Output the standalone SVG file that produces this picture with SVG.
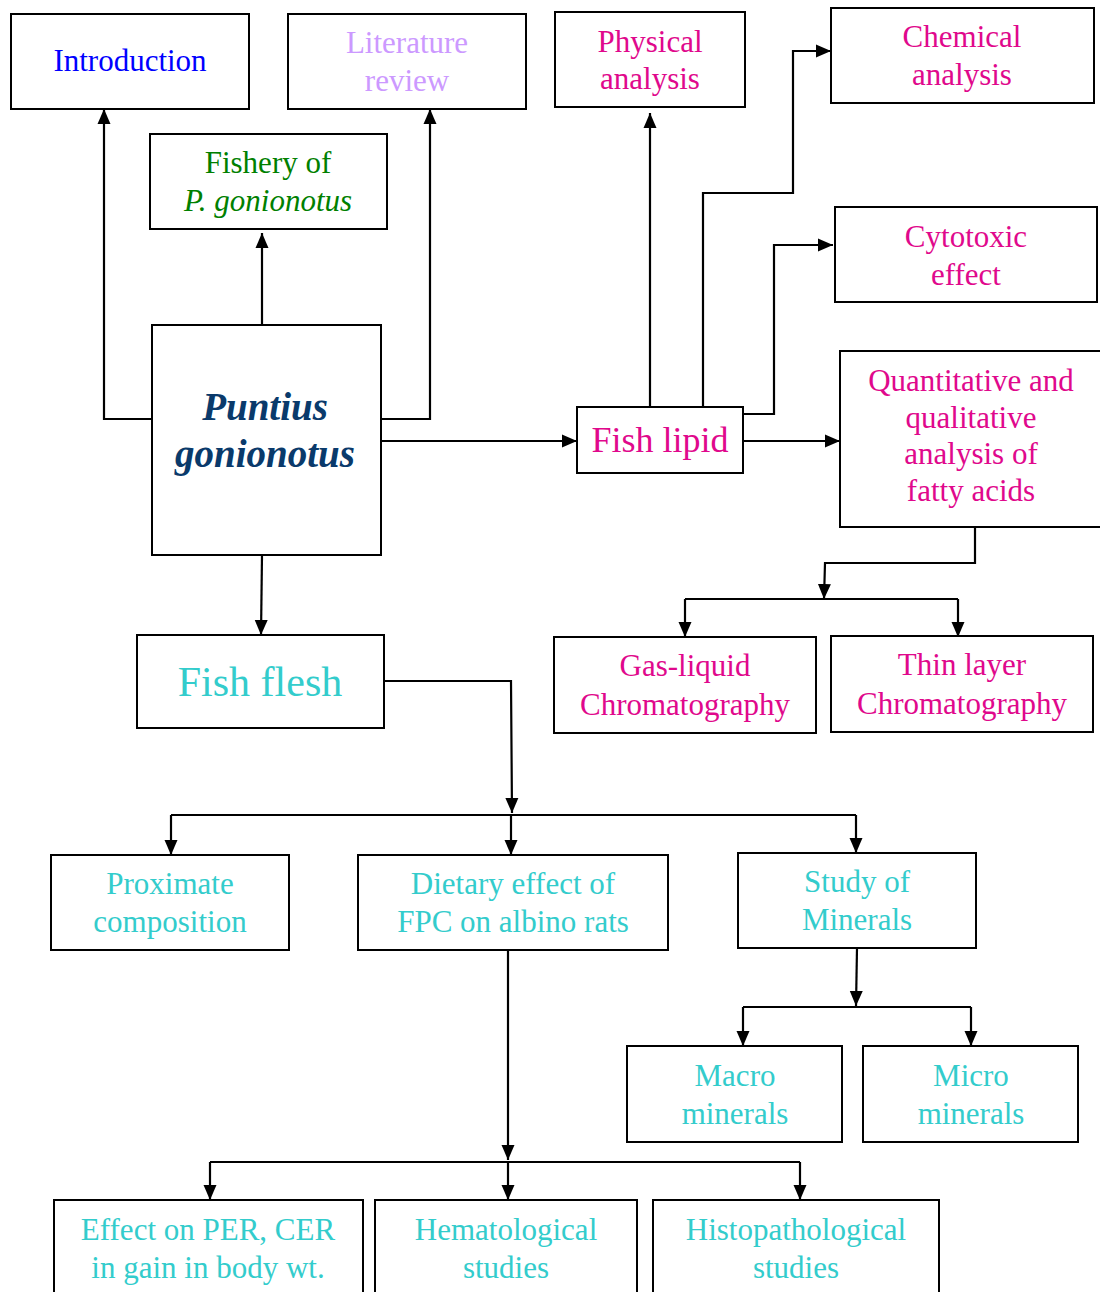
<svg xmlns="http://www.w3.org/2000/svg" width="1100" height="1292" viewBox="0 0 1100 1292">
<style>
.box{fill:#fff;stroke:#000;stroke-width:2}
.t{font-family:"Liberation Serif","Times New Roman",serif;font-size:31px;text-anchor:middle}
.big{font-size:39px;font-weight:bold;font-style:italic;fill:#0a3a6b}
.lip{font-size:36px}
.fl{font-size:42px}
.mag{fill:#e0088c}
.tq{fill:#33cccc}
.c{fill:none;stroke:#000;stroke-width:2.2}
</style>
<defs>
<marker id="ah" markerUnits="userSpaceOnUse" markerWidth="16" markerHeight="14" refX="15" refY="7" orient="auto">
<path d="M0,0.5 L15,7 L0,13.5 z" fill="#000"/>
</marker>
</defs>
<rect width="1100" height="1292" fill="#fff"/>
<g id="connectors">
<path class="c" d="M152,419 H104 V109" marker-end="url(#ah)"/>
<path class="c" d="M381,419 H430 V109" marker-end="url(#ah)"/>
<path class="c" d="M262,325 V233" marker-end="url(#ah)"/>
<path class="c" d="M377,441 H577" marker-end="url(#ah)"/>
<path class="c" d="M262,555 L261,635" marker-end="url(#ah)"/>
<path class="c" d="M650,407 V113" marker-end="url(#ah)"/>
<path class="c" d="M703,407 V193 H793 V51 H831" marker-end="url(#ah)"/>
<path class="c" d="M743,414 H774 V245 H833" marker-end="url(#ah)"/>
<path class="c" d="M741,441 H840" marker-end="url(#ah)"/>
<path class="c" d="M975,527 V563 H825 L824,599" marker-end="url(#ah)"/>
<path class="c" d="M685,599 H958"/>
<path class="c" d="M685,599 V637" marker-end="url(#ah)"/>
<path class="c" d="M958,599 V637" marker-end="url(#ah)"/>
<path class="c" d="M384,681 H511 L512,813" marker-end="url(#ah)"/>
<path class="c" d="M171,815 H856"/>
<path class="c" d="M171,815 V855" marker-end="url(#ah)"/>
<path class="c" d="M511,815 V855" marker-end="url(#ah)"/>
<path class="c" d="M856,815 V853" marker-end="url(#ah)"/>
<path class="c" d="M508,950 V1160" marker-end="url(#ah)"/>
<path class="c" d="M210,1162 H800"/>
<path class="c" d="M210,1162 V1200" marker-end="url(#ah)"/>
<path class="c" d="M508,1162 V1200" marker-end="url(#ah)"/>
<path class="c" d="M800,1162 V1200" marker-end="url(#ah)"/>
<path class="c" d="M857,948 L856,1006" marker-end="url(#ah)"/>
<path class="c" d="M743,1007 H971"/>
<path class="c" d="M743,1007 V1046" marker-end="url(#ah)"/>
<path class="c" d="M971,1007 V1046" marker-end="url(#ah)"/>
</g>
<g id="introduction"><rect class="box" x="11" y="14" width="238" height="95"/><text class="t" x="130" y="71" fill="#0000ff">Introduction</text></g>
<g id="literature"><rect class="box" x="288" y="14" width="238" height="95"/><text class="t" x="407" y="53" fill="#cc99ff">Literature</text><text class="t" x="407" y="91" fill="#cc99ff">review</text></g>
<g id="fishery"><rect class="box" x="150" y="134" width="237" height="95"/><text class="t" x="268" y="173" fill="#008000">Fishery of</text><text class="t" x="268" y="211" fill="#008000" style="font-style:italic">P. gonionotus</text></g>
<g id="physical"><rect class="box" x="555" y="12" width="190" height="95"/><text class="t mag" x="650" y="52">Physical</text><text class="t mag" x="650" y="89">analysis</text></g>
<g id="chemical"><rect class="box" x="831" y="8" width="263" height="95"/><text class="t mag" x="962" y="47">Chemical</text><text class="t mag" x="962" y="85">analysis</text></g>
<g id="cytotoxic"><rect class="box" x="835" y="207" width="262" height="95"/><text class="t mag" x="966" y="247">Cytotoxic</text><text class="t mag" x="966" y="285">effect</text></g>
<g id="puntius"><rect class="box" x="152" y="325" width="229" height="230"/><text class="t big" x="265" y="420">Puntius</text><text class="t big" x="265" y="467">gonionotus</text></g>
<g id="fishlipid"><rect class="box" x="577" y="407" width="166" height="66"/><text class="t mag lip" x="660" y="452">Fish lipid</text></g>
<g id="quant"><rect class="box" x="840" y="351" width="270" height="176"/><text class="t mag" x="971" y="391">Quantitative and</text><text class="t mag" x="971" y="428">qualitative</text><text class="t mag" x="971" y="464">analysis of</text><text class="t mag" x="971" y="501">fatty acids</text></g>
<g id="gasliquid"><rect class="box" x="554" y="637" width="262" height="96"/><text class="t mag" x="685" y="676">Gas-liquid</text><text class="t mag" x="685" y="715">Chromatography</text></g>
<g id="thinlayer"><rect class="box" x="831" y="636" width="262" height="96"/><text class="t mag" x="962" y="675">Thin layer</text><text class="t mag" x="962" y="714">Chromatography</text></g>
<g id="fishflesh"><rect class="box" x="137" y="635" width="247" height="93"/><text class="t tq fl" x="260" y="696">Fish flesh</text></g>
<g id="proximate"><rect class="box" x="51" y="855" width="238" height="95"/><text class="t tq" x="170" y="894">Proximate</text><text class="t tq" x="170" y="932">composition</text></g>
<g id="dietary"><rect class="box" x="358" y="855" width="310" height="95"/><text class="t tq" x="513" y="894">Dietary effect of</text><text class="t tq" x="513" y="932">FPC on albino rats</text></g>
<g id="minerals"><rect class="box" x="738" y="853" width="238" height="95"/><text class="t tq" x="857" y="892">Study of</text><text class="t tq" x="857" y="930">Minerals</text></g>
<g id="macro"><rect class="box" x="627" y="1046" width="215" height="96"/><text class="t tq" x="735" y="1086">Macro</text><text class="t tq" x="735" y="1124">minerals</text></g>
<g id="micro"><rect class="box" x="863" y="1046" width="215" height="96"/><text class="t tq" x="971" y="1086">Micro</text><text class="t tq" x="971" y="1124">minerals</text></g>
<g id="effect"><rect class="box" x="54" y="1200" width="309" height="110"/><text class="t tq" x="208" y="1240">Effect on PER, CER</text><text class="t tq" x="208" y="1278">in gain in body wt.</text></g>
<g id="hematological"><rect class="box" x="375" y="1200" width="262" height="110"/><text class="t tq" x="506" y="1240">Hematological</text><text class="t tq" x="506" y="1278">studies</text></g>
<g id="histopathological"><rect class="box" x="653" y="1200" width="286" height="110"/><text class="t tq" x="796" y="1240">Histopathological</text><text class="t tq" x="796" y="1278">studies</text></g>
</svg>
